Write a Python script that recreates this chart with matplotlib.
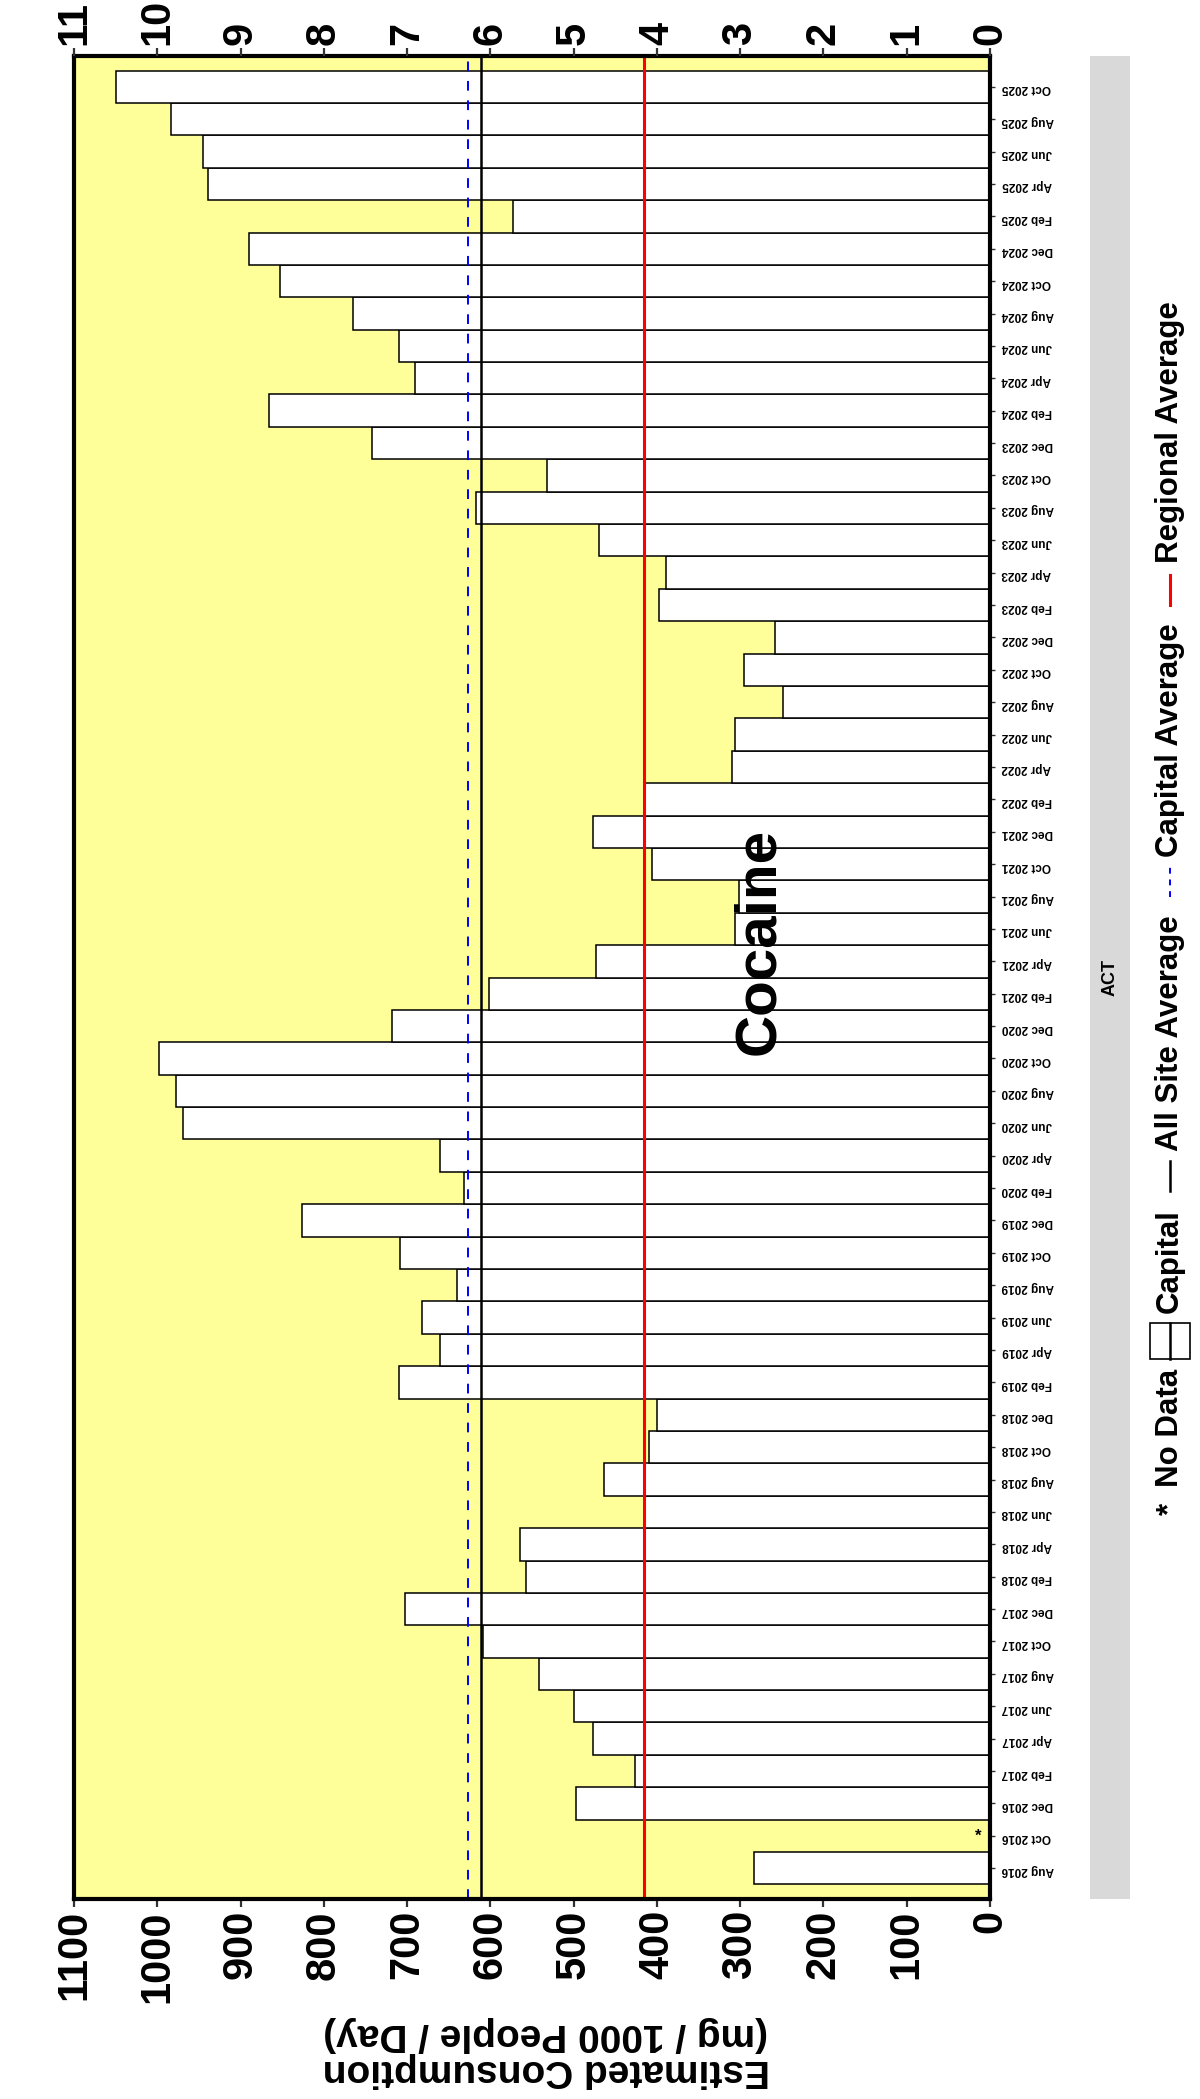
"""
Cocaine consumption chart for ACT, drawn sideways like the reference.
"""
import matplotlib

matplotlib.use("Agg")
import matplotlib.pyplot as plt
import numpy as np
from matplotlib.lines import Line2D
from matplotlib.patches import Rectangle

plt.rcParams["font.family"] = ["Liberation Sans", "DejaVu Sans"]
plt.rcParams["font.weight"] = "bold"

# data (Aug 2016 -> Oct 2025), NaN = no data
dates = [
    "Aug 2016", "Oct 2016", "Dec 2016",
    "Feb 2017", "Apr 2017", "Jun 2017", "Aug 2017", "Oct 2017", "Dec 2017",
    "Feb 2018", "Apr 2018", "Jun 2018", "Aug 2018", "Oct 2018", "Dec 2018",
    "Feb 2019", "Apr 2019", "Jun 2019", "Aug 2019", "Oct 2019", "Dec 2019",
    "Feb 2020", "Apr 2020", "Jun 2020", "Aug 2020", "Oct 2020", "Dec 2020",
    "Feb 2021", "Apr 2021", "Jun 2021", "Aug 2021", "Oct 2021", "Dec 2021",
    "Feb 2022", "Apr 2022", "Jun 2022", "Aug 2022", "Oct 2022", "Dec 2022",
    "Feb 2023", "Apr 2023", "Jun 2023", "Aug 2023", "Oct 2023", "Dec 2023",
    "Feb 2024", "Apr 2024", "Jun 2024", "Aug 2024", "Oct 2024", "Dec 2024",
    "Feb 2025", "Apr 2025", "Jun 2025", "Aug 2025", "Oct 2025",
]
capital = [
    283, np.nan, 497,
    426, 477, 500, 541, 609, 703,
    557, 565, 415, 463, 409, 400,
    710, 660, 682, 640, 708, 826,
    632, 661, 969, 977, 998, 718,
    602, 473, 306, 302, 406, 477,
    414, 310, 306, 248, 295, 258,
    397, 389, 469, 617, 532, 742,
    866, 690, 710, 765, 853, 890,
    573, 939, 945, 983, 1050,
]
all_site_avg = 611
capital_avg = 627
regional_avg = 415
value_ticks = list(range(0, 1101, 100))
second_ticks = list(range(0, 12))

W, H = 1200, 2099
fig = plt.figure(figsize=(W / 100, H / 100), dpi=100)

# panel in pixels (from top-left)
px_l, px_r, px_t, px_b = 74, 990, 56, 1899
ax = fig.add_axes([px_l / W, 1 - px_b / H, (px_r - px_l) / W, (px_b - px_t) / H])
ax.set_facecolor("#FFFF99")

y = np.arange(len(dates))
vals = np.array(capital, dtype=float)
ok = ~np.isnan(vals)
ax.barh(y[ok], vals[ok], height=1.0, left=0, color="white",
        edgecolor="black", linewidth=1.1, zorder=2)
for i in y[~ok]:
    ax.text(14, i, "*", ha="center", va="center", fontsize=12, zorder=4)

ax.axvline(all_site_avg, color="black", linewidth=1.8, zorder=3)
ax.axvline(capital_avg, color="#0000FF", linewidth=1.4, linestyle=(0, (5, 5)), zorder=3)
ax.axvline(regional_avg, color="#FF0000", linewidth=2.2, zorder=3)

ax.set_xlim(1100, 0)
ax.set_ylim(-0.95, len(dates) - 1 + 0.95)
ax.set_xticks(value_ticks)
ax.set_xticklabels([str(v) for v in value_ticks])
ax.tick_params(axis="x", labelrotation=90, labelsize=30, length=6, width=1.6,
               color="#333333", pad=2)
ax.set_yticks(y)
ax.set_yticklabels(dates)
ax.yaxis.tick_right()
ax.tick_params(axis="y", labelrotation=180, labelsize=8.5, length=3.5, width=1,
               color="#333333", pad=5)
for sp in ax.spines.values():
    sp.set_linewidth(3)
    sp.set_color("black")
    sp.set_zorder(5)

ax2 = ax.twiny()
ax2.set_xlim(11, 0)
ax2.set_xticks(second_ticks)
ax2.set_xticklabels([str(v) for v in second_ticks])
ax2.tick_params(axis="x", labelrotation=90, labelsize=30, length=6, width=1.6,
                color="#333333", pad=2)
for sp in ax2.spines.values():
    sp.set_visible(False)

# axis title (upside down) and plot title
fig.text(0.455, 1 - 2052 / H, "Estimated Consumption\n(mg / 1000 People / Day)",
         rotation=180, ha="center", va="center", fontsize=28, fontweight="bold",
         multialignment="center", linespacing=1.0)
fig.text(759 / W, 1 - 941 / H, "Cocaine", rotation=90, ha="center", va="center",
         fontsize=42, fontweight="bold")

# facet strip
sx0, sx1 = 1090, 1130
fig.add_artist(Rectangle((sx0 / W, 1 - px_b / H), (sx1 - sx0) / W, (px_b - px_t) / H,
                         transform=fig.transFigure, facecolor="#D9D9D9",
                         edgecolor="none"))
fig.text((sx0 + sx1) / 2 / W, 1 - (px_t + px_b) / 2 / H, "ACT", rotation=90,
         ha="center", va="center", fontsize=13, fontweight="bold")

# legend, stacked upward
renderer = fig.canvas.get_renderer()
xl = 1170
pos = H - 1515
fs = 22.5


def put_text(s, yb):
    t = fig.text(xl / W, yb / H, s, rotation=90, ha="center", va="bottom",
                 fontsize=fs, fontweight="bold")
    return t.get_window_extent(renderer).y1


def put_line(yb, length, **kw):
    fig.add_artist(Line2D([xl / W, xl / W], [yb / H, (yb + length) / H],
                          transform=fig.transFigure, **kw))
    return yb + length


pos = put_text("*", pos) + 16
pos = put_text("No Data", pos) + 10
fig.add_artist(Rectangle(((xl - 20) / W, pos / H), 40 / W, 36 / H,
                         transform=fig.transFigure, facecolor="white",
                         edgecolor="black", linewidth=1.2))
put_line(pos, 36, color="black", linewidth=1.8)
pos = pos + 36 + 10
pos = put_text("Capital", pos) + 18
pos = put_line(pos, 30, color="black", linewidth=1.8) + 10
pos = put_text("All Site Average", pos) + 18
pos = put_line(pos, 30, color="#0000FF", linewidth=1.4, linestyle=(0, (3, 3))) + 10
pos = put_text("Capital Average", pos) + 18
pos = put_line(pos, 30, color="#FF0000", linewidth=2.2) + 12
pos = put_text("Regional Average", pos)

fig.savefig("out.png", dpi=100, facecolor="white")
